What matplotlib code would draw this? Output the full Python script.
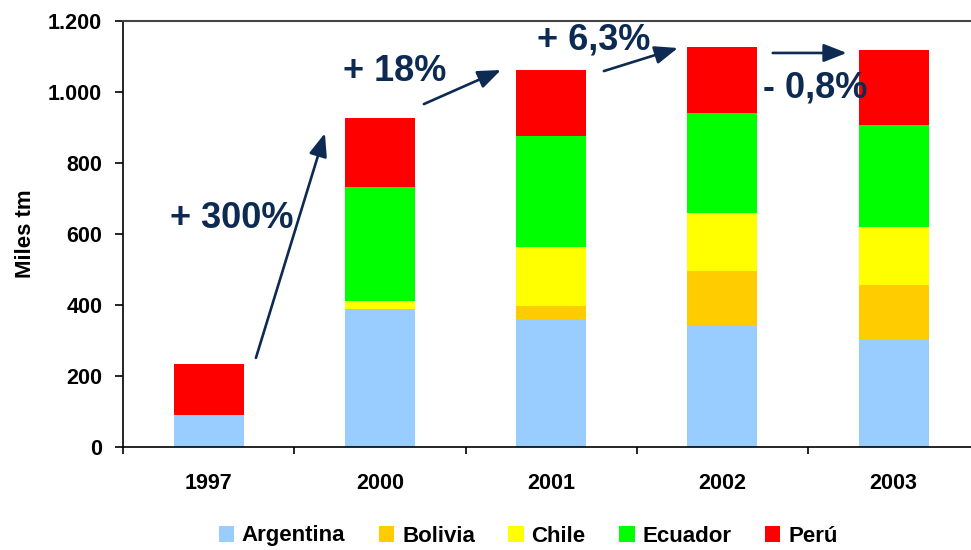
import matplotlib
matplotlib.use("Agg")
import matplotlib.pyplot as plt
import numpy as np

plt.rcParams['font.family'] = ['Liberation Sans', 'DejaVu Sans']

years = ["1997", "2000", "2001", "2002", "2003"]
countries = ["Argentina", "Bolivia", "Chile", "Ecuador", "Perú"]
argentina = [90, 389, 360, 342, 304]
bolivia = [0, 0, 37, 155, 153]
chile = [0, 23, 167, 162, 163]
ecuador = [0, 321, 313, 282, 288]
peru = [144, 194, 184, 187, 210]
colors = ["#99CCFF", "#FFCC00", "#FFFF00", "#00FF00", "#FF0000"]

# growth annotations: label, text position, arrow start, arrow end (data coords)
growth_labels = ["+ 300%", "+ 18%", "+ 6,3%", "- 0,8%"]
label_pos = [(0.136, 645), (1.088, 1059), (2.25, 1146), (3.54, 1011)]
arrow_from = [(0.276, 251), (1.257, 966), (2.308, 1059), (3.294, 1110)]
arrow_to = [(0.679, 884), (1.707, 1062), (2.74, 1124), (3.726, 1110)]

navy = "#0c2a52"

fig = plt.figure(figsize=(9.71, 5.5), dpi=100)
ax = fig.add_axes([0.1267, 0.1873, 0.8818, 0.7745])

x = np.arange(len(years))
series = [argentina, bolivia, chile, ecuador, peru]
bottom = np.zeros(len(years))
for name, vals, c in zip(countries, series, colors):
    ax.bar(x, vals, width=0.41, bottom=bottom, color=c, label=name, zorder=2)
    bottom += np.array(vals)

ax.set_xlim(-0.5, len(years) - 0.5)
ax.set_ylim(0, 1200)
ax.set_yticks(np.arange(0, 1201, 200))
ax.set_yticklabels(["0", "200", "400", "600", "800", "1.000", "1.200"],
                   fontsize=15.5, fontweight='bold')
ax.set_xticks(x)
ax.set_xticklabels(years, fontsize=15.5, fontweight='bold')
ax.set_xticks(np.arange(-0.5, len(years)), minor=True)
ax.tick_params(axis='x', which='major', length=0, pad=19)
ax.tick_params(axis='x', which='minor', length=5, width=1.2, direction='out')
ax.tick_params(axis='y', which='major', length=6, width=1.2, direction='out', pad=9)
ax.set_ylabel("Miles tm", fontsize=16, fontweight='bold', labelpad=9)

for s in ['left', 'bottom']:
    ax.spines[s].set_linewidth(1.2)
ax.spines['top'].set_linewidth(1.5)
ax.spines['top'].set_color('#444444')
ax.spines['right'].set_visible(False)

for lab, pos, a0, a1 in zip(growth_labels, label_pos, arrow_from, arrow_to):
    ax.annotate("", xy=a1, xytext=a0,
                arrowprops=dict(arrowstyle="-|>,head_length=1.4,head_width=0.55",
                                color=navy, lw=1.9, shrinkA=0, shrinkB=0),
                zorder=5, annotation_clip=False)
    ax.text(pos[0], pos[1], lab, ha='center', va='center', fontsize=26,
            fontweight='bold', color=navy, zorder=6)

leg = fig.legend(loc='center', bbox_to_anchor=(528 / 971, 1 - 536 / 550), ncol=5,
                 frameon=False, prop=dict(size=16, weight='bold'),
                 handlelength=0.7, handleheight=0.7, handletextpad=0.35,
                 columnspacing=1.5, borderaxespad=0)

fig.savefig("out.png", dpi=100)
